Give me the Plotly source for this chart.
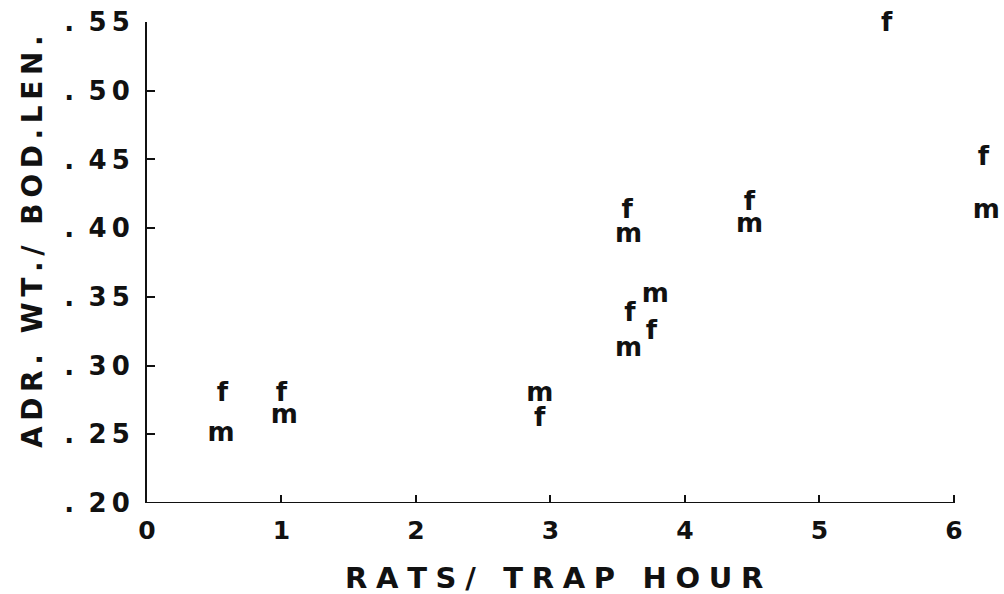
import plotly.graph_objects as go

# Data (rats per trap hour vs adrenal wt / body length)
female_x = [0.56, 1.00, 2.92, 3.57, 3.59, 3.75, 4.48, 5.50, 6.22]
female_y = [0.279, 0.279, 0.261, 0.412, 0.337, 0.324, 0.418, 0.548, 0.451]
male_x = [0.55, 1.02, 2.92, 3.58, 3.78, 3.58, 4.48, 6.24]
male_y = [0.250, 0.263, 0.279, 0.395, 0.351, 0.312, 0.402, 0.412]

x_ticks = [0, 1, 2, 3, 4, 5, 6]
y_ticks = [0.20, 0.25, 0.30, 0.35, 0.40, 0.45, 0.50, 0.55]
y_tick_text = [". \u2009" + "\u2009".join(f"{v:.2f}"[2:]) for v in y_ticks]

x_title = "RATS/ TRAP HOUR"
y_title = "ADR. WT./ BOD.LEN."


def spaced(s, gap):
    return gap.join(s)


FONT = "DejaVu Sans"
INK = "#111111"

fig = go.Figure()
fig.add_trace(go.Scatter(
    x=female_x, y=female_y, mode="text", text=["f"] * len(female_x),
    textposition="middle center",
    textfont=dict(family=FONT, size=26, color=INK, weight="bold"),
    cliponaxis=False, showlegend=False, hoverinfo="skip",
))
fig.add_trace(go.Scatter(
    x=male_x, y=male_y, mode="text", text=["m"] * len(male_x),
    textposition="middle center",
    textfont=dict(family=FONT, size=26, color=INK, weight="bold"),
    cliponaxis=False, showlegend=False, hoverinfo="skip",
))

W, H = 1004, 594
X_MAX = 6.35
L, T, B = 147, 22, 91
R = 1004 - 147 - round(X_MAX * 134.5)

fig.update_layout(
    width=W, height=H,
    margin=dict(l=L, r=R, t=T, b=B),
    paper_bgcolor="white", plot_bgcolor="white",
    font=dict(family=FONT, color=INK),
    xaxis=dict(
        range=[0, X_MAX], tickvals=x_ticks, ticktext=[str(v) for v in x_ticks],
        showgrid=False, zeroline=False, showline=False,
        ticks="inside", ticklen=8, tickwidth=2, tickcolor=INK,
        tickfont=dict(family=FONT, size=25, color=INK, weight="bold"),
        ticklabelstandoff=10,
    ),
    yaxis=dict(
        range=[0.20, 0.55], tickvals=y_ticks, ticktext=y_tick_text,
        showgrid=False, zeroline=False, showline=True, linecolor=INK, linewidth=2,
        ticks="inside", ticklen=8, tickwidth=2, tickcolor=INK,
        tickfont=dict(family=FONT, size=26, color=INK, weight="bold"),
        ticklabelstandoff=10,
    ),
)

# x axis baseline only spans 0..6 as in the reference
fig.add_shape(type="line", xref="x", yref="y", x0=x_ticks[0], x1=x_ticks[-1],
              y0=y_ticks[0], y1=y_ticks[0], line=dict(color=INK, width=2))

pw, ph = W - L - R, H - T - B
fig.add_annotation(
    text=spaced(x_title, "\u2009\u200a"),
    x=(554 - L) / pw, y=1 - (578 - T) / ph, xref="paper", yref="paper",
    xanchor="center", yanchor="middle", showarrow=False,
    font=dict(family=FONT, size=29, color=INK, weight="bold"),
)
fig.add_annotation(
    text=spaced(y_title, "\u2009"),
    x=(32 - L) / pw, y=1 - (242 - T) / ph, xref="paper", yref="paper",
    xanchor="center", yanchor="middle", textangle=-90, showarrow=False,
    font=dict(family=FONT, size=28, color=INK, weight="bold"),
)

fig.write_html("out.html", config={"displayModeBar": False},
               post_script="document.body.style.margin='0';")
